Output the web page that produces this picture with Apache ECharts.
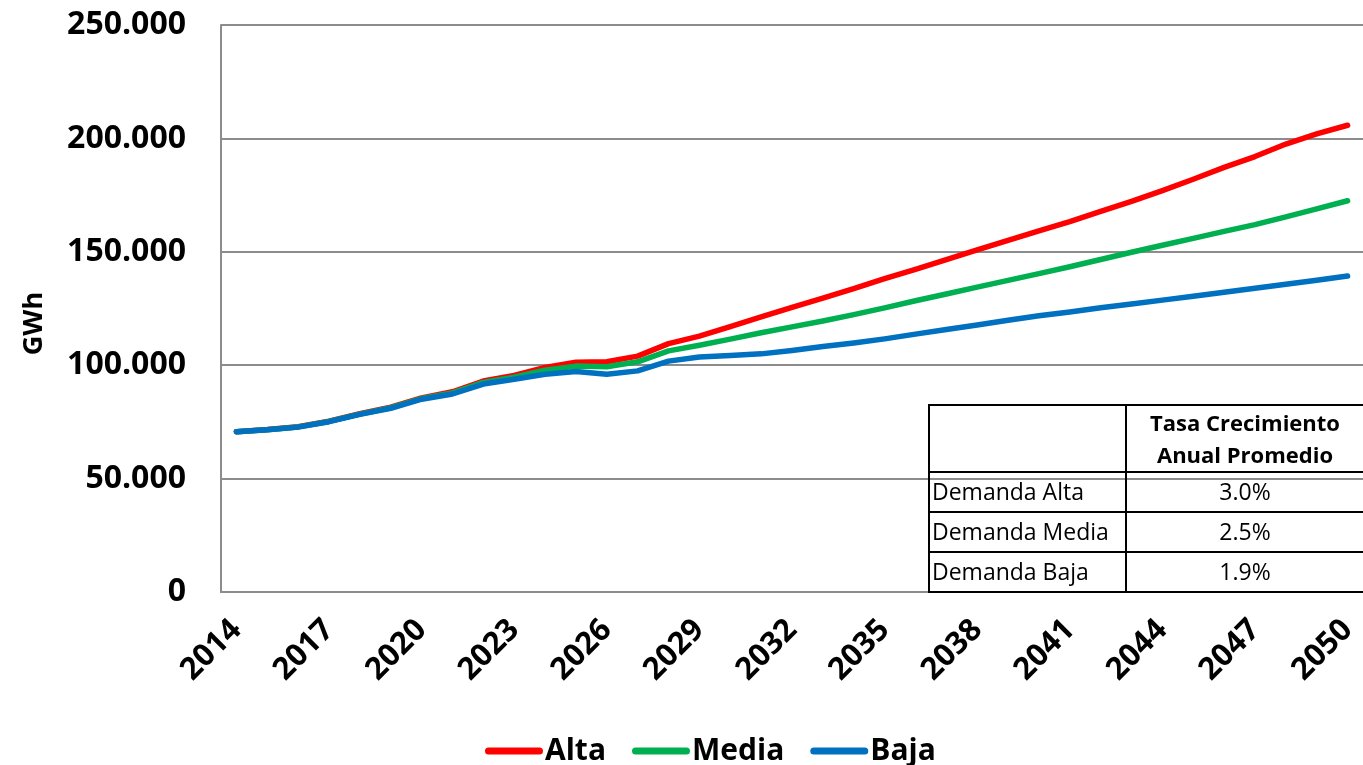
<!DOCTYPE html>
<html>
<head>
<meta charset="utf-8">
<script src="https://cdn.jsdelivr.net/npm/echarts@6/dist/echarts.min.js"></script>
<style>
html,body{margin:0;padding:0;background:#fff;}
#chart{width:1363px;height:765px;}
</style>
</head>
<body>
<div id="chart"></div>
<script>
const years = ['2014','2015','2016','2017','2018','2019','2020','2021','2022','2023','2024','2025','2026','2027','2028','2029','2030','2031','2032','2033','2034','2035','2036','2037','2038','2039','2040','2041','2042','2043','2044','2045','2046','2047','2048','2049','2050'];

const alta = [70700,71600,72900,75300,78600,81500,85600,88300,93000,95500,99000,101300,101500,104000,109500,112800,117000,121300,125500,129600,133800,138200,142300,146500,150800,155000,159200,163300,167800,172200,177000,182000,187200,192000,197500,202000,205800];

const media = [70700,71550,72800,75200,78450,81250,85300,87800,92400,94700,97800,99600,99300,101500,106300,108800,111500,114300,116900,119500,122300,125300,128400,131400,134400,137400,140400,143400,146600,149800,152900,155900,159000,162000,165400,168900,172500];

const baja = [70700,71500,72700,75100,78300,81000,85000,87300,91700,93800,96000,97200,96000,97500,101800,103600,104300,105000,106500,108200,109800,111600,113700,115700,117700,119800,121800,123500,125300,127000,128700,130400,132200,133900,135700,137500,139300];

const seriesNames = ['Alta','Media','Baja'];
const seriesColors = ['#FF0000','#00B050','#0070C0'];

const tableHeader = ['Tasa Crecimiento','Anual Promedio'];
const tableRowLabels = ['Demanda Alta','Demanda Media','Demanda Baja'];
const tableRates = ['3.0%','2.5%','1.9%'];

const FONT = '"Open Sans", "Noto Sans", sans-serif';

function fmt(v){
  return String(v).replace(/\B(?=(\d{3})+(?!\d))/g,'.');
}

// table geometry (layout only)
const T = {left:929, top:405, right:1364, headerBottom:472, rowH:40, colSplit:1126};
const tableEls = [];
const bottom = T.headerBottom + T.rowH*tableRowLabels.length;
tableEls.push({type:'rect', shape:{x:T.left, y:T.top, width:T.right-T.left, height:bottom-T.top}, style:{fill:null, stroke:'#000', lineWidth:2}, z:100});
tableEls.push({type:'line', shape:{x1:T.colSplit, y1:T.top, x2:T.colSplit, y2:bottom}, style:{stroke:'#000', lineWidth:2}, z:100});
for(let i=0;i<tableRowLabels.length;i++){
  const y = T.headerBottom + T.rowH*i;
  tableEls.push({type:'line', shape:{x1:T.left, y1:y, x2:T.right, y2:y}, style:{stroke:'#000', lineWidth:2}, z:100});
  tableEls.push({type:'text', x:T.left+3, y:y+T.rowH/2+1, style:{text:tableRowLabels[i], fontFamily:FONT, fontSize:23, fill:'#000', align:'left', verticalAlign:'middle'}, z:100});
  tableEls.push({type:'text', x:(T.colSplit+T.right)/2, y:y+T.rowH/2+1, style:{text:tableRates[i], fontFamily:FONT, fontSize:23, fill:'#000', align:'center', verticalAlign:'middle'}, z:100});
}
tableHeader.forEach((t,i)=>{
  tableEls.push({type:'text', x:(T.colSplit+T.right)/2, y:T.top+20+i*32, style:{text:t, fontFamily:FONT, fontSize:22, fontWeight:'bold', fill:'#000', align:'center', verticalAlign:'middle'}, z:100});
});

const seriesData = [alta, media, baja];
const chart = echarts.init(document.getElementById('chart'), null, {renderer:'canvas'});
chart.setOption({
  animation:false,
  backgroundColor:'#fff',
  grid:{left:221, top:25, width:1150, height:567, containLabel:false},
  legend:{
    data:seriesNames,
    top:731,
    left:480,
    itemWidth:58,
    itemHeight:7,
    itemGap:26,
    icon:'path://M3.5,0 L54.5,0 A3.5,3.5 0 0 1 54.5,7 L3.5,7 A3.5,3.5 0 0 1 3.5,0 Z',
    textStyle:{fontFamily:FONT, fontSize:30, fontWeight:'bold', color:'#000', padding:[0,0,0,-3]}
  },
  xAxis:{
    type:'category',
    data:years,
    boundaryGap:true,
    axisLine:{show:true, lineStyle:{color:'#8c8c8c', width:2}},
    axisTick:{show:false},
    axisLabel:{interval:2, rotate:45, margin:33, fontFamily:FONT, fontSize:31, fontWeight:'bold', color:'#000'},
    splitLine:{show:false}
  },
  yAxis:{
    type:'value',
    min:0, max:250000, interval:50000,
    name:'GWh',
    nameLocation:'middle',
    nameGap:173,
    nameTextStyle:{fontFamily:FONT, fontSize:27, fontWeight:'bold', color:'#000', padding:[0,30,0,0]},
    axisLine:{show:true, lineStyle:{color:'#8c8c8c', width:2}},
    axisTick:{show:false},
    axisLabel:{margin:35, fontFamily:FONT, fontSize:32, fontWeight:'bold', color:'#000', formatter:fmt},
    splitLine:{show:true, lineStyle:{color:'#8c8c8c', width:2}}
  },
  series: seriesNames.map((n,i)=>({
    name:n,
    type:'line',
    data:seriesData[i],
    symbol:'none',
    smooth:false,
    color:seriesColors[i],
    lineStyle:{color:seriesColors[i], width:5.5, cap:'round', join:'round'},
    z:2+i
  })),
  graphic:{elements:tableEls}
});
</script>
</body>
</html>
